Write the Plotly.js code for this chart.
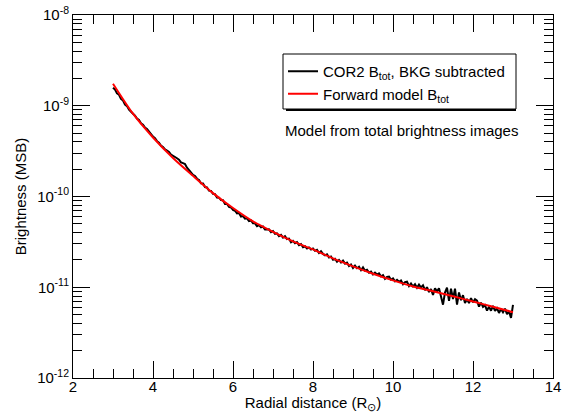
<!DOCTYPE html>
<html>
<head>
<meta charset="utf-8">
<script src="https://cdn.plot.ly/plotly-3.0.1.min.js"></script>
<style>html,body{margin:0;padding:0;background:#fff;}#chart{width:568px;height:413px;}</style>
</head>
<body>
<div id="chart"></div>
<script>
// Observed COR2 brightness (BKG subtracted)
const obsR = [3.00,3.05,3.10,3.15,3.20,3.25,3.30,3.35,3.40,3.45,3.50,3.55,3.60,3.65,3.70,3.75,3.80,3.85,3.90,3.95,
4.00,4.05,4.10,4.15,4.20,4.25,4.30,4.35,4.40,4.45,4.50,4.55,4.60,4.65,4.70,4.75,4.80,4.85,4.90,4.95,
5.00,5.05,5.10,5.15,5.20,5.25,5.30,5.35,5.40,5.45,5.50,5.55,5.60,5.65,5.70,5.75,5.80,5.85,5.90,5.95,
6.00,6.05,6.10,6.15,6.20,6.25,6.30,6.35,6.40,6.45,6.50,6.55,6.60,6.65,6.70,6.75,6.80,6.85,6.90,6.95,
7.00,7.05,7.10,7.15,7.20,7.25,7.30,7.35,7.40,7.45,7.50,7.55,7.60,7.65,7.70,7.75,7.80,7.85,7.90,7.95,
8.00,8.05,8.10,8.15,8.20,8.25,8.30,8.35,8.40,8.45,8.50,8.55,8.60,8.65,8.70,8.75,8.80,8.85,8.90,8.95,
9.00,9.05,9.10,9.15,9.20,9.25,9.30,9.35,9.40,9.45,9.50,9.55,9.60,9.65,9.70,9.75,9.80,9.85,9.90,9.95,
10.00,10.05,10.10,10.15,10.20,10.25,10.30,10.35,10.40,10.45,10.50,10.55,10.60,10.65,10.70,10.75,10.80,10.85,10.90,10.95,
11.00,11.05,11.10,11.15,11.20,11.25,11.30,11.35,11.40,11.45,11.50,11.55,11.60,11.65,11.70,11.75,11.80,11.85,11.90,11.95,
12.00,12.05,12.10,12.15,12.20,12.25,12.30,12.35,12.40,12.45,12.50,12.55,12.60,12.65,12.70,12.75,12.80,12.85,12.90,12.95,
13.00];
const obsB = [1.58e-9,1.51e-9,1.37e-9,1.32e-9,1.19e-9,1.14e-9,1.03e-9,9.91e-10,9.08e-10,8.71e-10,
8.17e-10,7.78e-10,7.24e-10,6.97e-10,6.41e-10,6.18e-10,5.75e-10,5.55e-10,5.15e-10,4.91e-10,
4.57e-10,4.39e-10,4.07e-10,3.91e-10,3.63e-10,3.52e-10,3.31e-10,3.21e-10,3.09e-10,2.90e-10,
2.79e-10,2.69e-10,2.64e-10,2.55e-10,2.38e-10,2.33e-10,2.28e-10,2.08e-10,1.96e-10,1.85e-10,
1.73e-10,1.68e-10,1.57e-10,1.52e-10,1.40e-10,1.39e-10,1.27e-10,1.26e-10,1.16e-10,1.15e-10,
1.07e-10,1.06e-10,9.73e-11,9.71e-11,9.14e-11,9.10e-11,8.28e-11,8.26e-11,7.69e-11,7.57e-11,
7.13e-11,6.97e-11,6.52e-11,6.59e-11,6.01e-11,6.08e-11,5.69e-11,5.75e-11,5.37e-11,5.45e-11,
5.08e-11,5.06e-11,4.71e-11,4.85e-11,4.57e-11,4.66e-11,4.33e-11,4.32e-11,4.35e-11,4.05e-11,
4.17e-11,3.88e-11,3.93e-11,3.66e-11,3.78e-11,3.52e-11,3.65e-11,3.40e-11,3.44e-11,3.13e-11,
3.24e-11,3.06e-11,3.14e-11,2.91e-11,2.99e-11,2.76e-11,2.83e-11,2.68e-11,2.75e-11,2.61e-11,
2.67e-11,2.52e-11,2.58e-11,2.38e-11,2.49e-11,2.33e-11,2.25e-11,2.31e-11,2.13e-11,2.18e-11,
2.01e-11,2.06e-11,1.91e-11,2.00e-11,1.87e-11,1.97e-11,1.82e-11,1.87e-11,1.71e-11,1.78e-11,
1.63e-11,1.73e-11,1.62e-11,1.68e-11,1.54e-11,1.66e-11,1.52e-11,1.56e-11,1.45e-11,1.49e-11,
1.38e-11,1.45e-11,1.38e-11,1.42e-11,1.32e-11,1.36e-11,1.24e-11,1.30e-11,1.31e-11,1.21e-11,
1.25e-11,1.16e-11,1.21e-11,1.15e-11,1.19e-11,1.08e-11,1.14e-11,1.15e-11,1.03e-11,1.10e-11,
1.02e-11,1.08e-11,9.86e-12,1.07e-11,9.95e-12,1.05e-11,9.29e-12,1.00e-11,8.85e-12,9.57e-12,
8.24e-12,9.77e-12,9.02e-12,9.75e-12,8.18e-12,6.43e-12,8.75e-12,9.93e-12,7.10e-12,9.66e-12,
7.41e-12,9.64e-12,6.44e-12,8.77e-12,7.19e-12,8.17e-12,6.70e-12,7.43e-12,6.68e-12,7.59e-12,
6.82e-12,7.38e-12,7.11e-12,6.11e-12,6.76e-12,6.08e-12,6.35e-12,5.52e-12,6.12e-12,5.51e-12,
6.24e-12,5.48e-12,5.86e-12,5.21e-12,5.77e-12,5.31e-12,5.81e-12,5.05e-12,5.40e-12,4.60e-12,
6.40e-12];

// Forward model brightness
const modelR = [3.0,3.5,4.0,4.5,5.0,5.5,6.0,6.5,7.0,7.5,8.0,8.5,9.0,9.5,10.0,10.5,11.0,11.5,12.0,12.5,13.0];
const modelB = [1.75e-9,8.17e-10,4.47e-10,2.66e-10,1.69e-10,1.09e-10,7.46e-11,5.32e-11,4.07e-11,3.20e-11,
2.61e-11,2.08e-11,1.70e-11,1.41e-11,1.19e-11,1.02e-11,9.04e-12,7.94e-12,6.98e-12,6.09e-12,5.31e-12];

const xTickVals = [2,4,6,8,10,12,14];
const yTickVals = [1e-12,1e-11,1e-10,1e-9,1e-8];
const yTickText = ['10<sup>-12</sup>','10<sup>-11</sup>','10<sup>-10</sup>','10<sup>-9</sup>','10<sup>-8</sup>'];

const FONT = 'Liberation Sans, Arial, Helvetica, sans-serif';

const traces = [
  {x: obsR, y: obsB, type: 'scatter', mode: 'lines', name: 'COR2 B<sub>tot</sub>, BKG subtracted',
   line: {color: '#000000', width: 2}},
  {x: modelR, y: modelB, type: 'scatter', mode: 'lines', name: 'Forward model B<sub>tot</sub>',
   line: {color: '#ff0000', width: 2, shape: 'spline', smoothing: 0.8}}
];

// plot area: l=73, w=480, t=15, h=363
function px(x){return (x-73)/480;}
function py(y){return (378-y)/363;}

const layout = {
  width: 568, height: 413,
  margin: {l: 73, r: 15, t: 15, b: 35},
  paper_bgcolor: '#fff', plot_bgcolor: '#fff',
  font: {family: FONT, size: 14, color: '#000'},
  showlegend: true,
  legend: {x: px(283), y: py(55), xanchor: 'left', yanchor: 'top',
    bgcolor: 'rgba(0,0,0,0)', borderwidth: 0, font: {family: FONT, size: 15, color: '#000'},
    tracegroupgap: 0, itemwidth: 30},
  xaxis: {
    type: 'linear', range: [2, 14], tickmode: 'array', tickvals: xTickVals,
    ticks: 'inside', ticklen: 17, tickwidth: 1, tickcolor: '#000',
    showline: true, linecolor: '#000', linewidth: 1, mirror: 'ticks',
    showgrid: false, zeroline: false, ticklabelstandoff: -5,
    tickfont: {family: FONT, size: 15, color: '#000'},
    minor: {ticks: 'inside', ticklen: 9, tickwidth: 1, tickcolor: '#000', dtick: 0.5, showgrid: false},
    title: {text: 'Radial distance (R<sub>⊙</sub>)', font: {family: FONT, size: 15, color: '#000'}, standoff: 1}
  },
  yaxis: {
    type: 'log', range: [-12, -8], tickmode: 'array', tickvals: yTickVals, ticktext: yTickText,
    ticks: 'inside', ticklen: 17, tickwidth: 1, tickcolor: '#000',
    showline: true, linecolor: '#000', linewidth: 1, mirror: 'ticks',
    showgrid: false, zeroline: false,
    tickfont: {family: FONT, size: 15, color: '#000'},
    minor: {ticks: 'inside', ticklen: 9, tickwidth: 1, tickcolor: '#000', dtick: 'D1', showgrid: false},
    title: {text: 'Brightness (MSB)', font: {family: FONT, size: 15, color: '#000'}, standoff: 6}
  },
  shapes: [
    {type: 'rect', xref: 'paper', yref: 'paper', x0: px(286), x1: px(516), y0: py(111), y1: py(56),
     line: {width: 0}, fillcolor: '#000', layer: 'above'},
    {type: 'rect', xref: 'paper', yref: 'paper', x0: px(283), x1: px(516), y0: py(109), y1: py(54),
     line: {color: '#000', width: 1}, fillcolor: '#fff', layer: 'above'}
  ],
  annotations: [
    {text: 'Model from total brightness images', xref: 'paper', yref: 'paper', x: px(401), y: py(130),
     xanchor: 'center', yanchor: 'middle', showarrow: false, font: {family: FONT, size: 15, color: '#000'}}
  ]
};

Plotly.newPlot('chart', traces, layout, {displayModeBar: false, staticPlot: true});
</script>
</body>
</html>
